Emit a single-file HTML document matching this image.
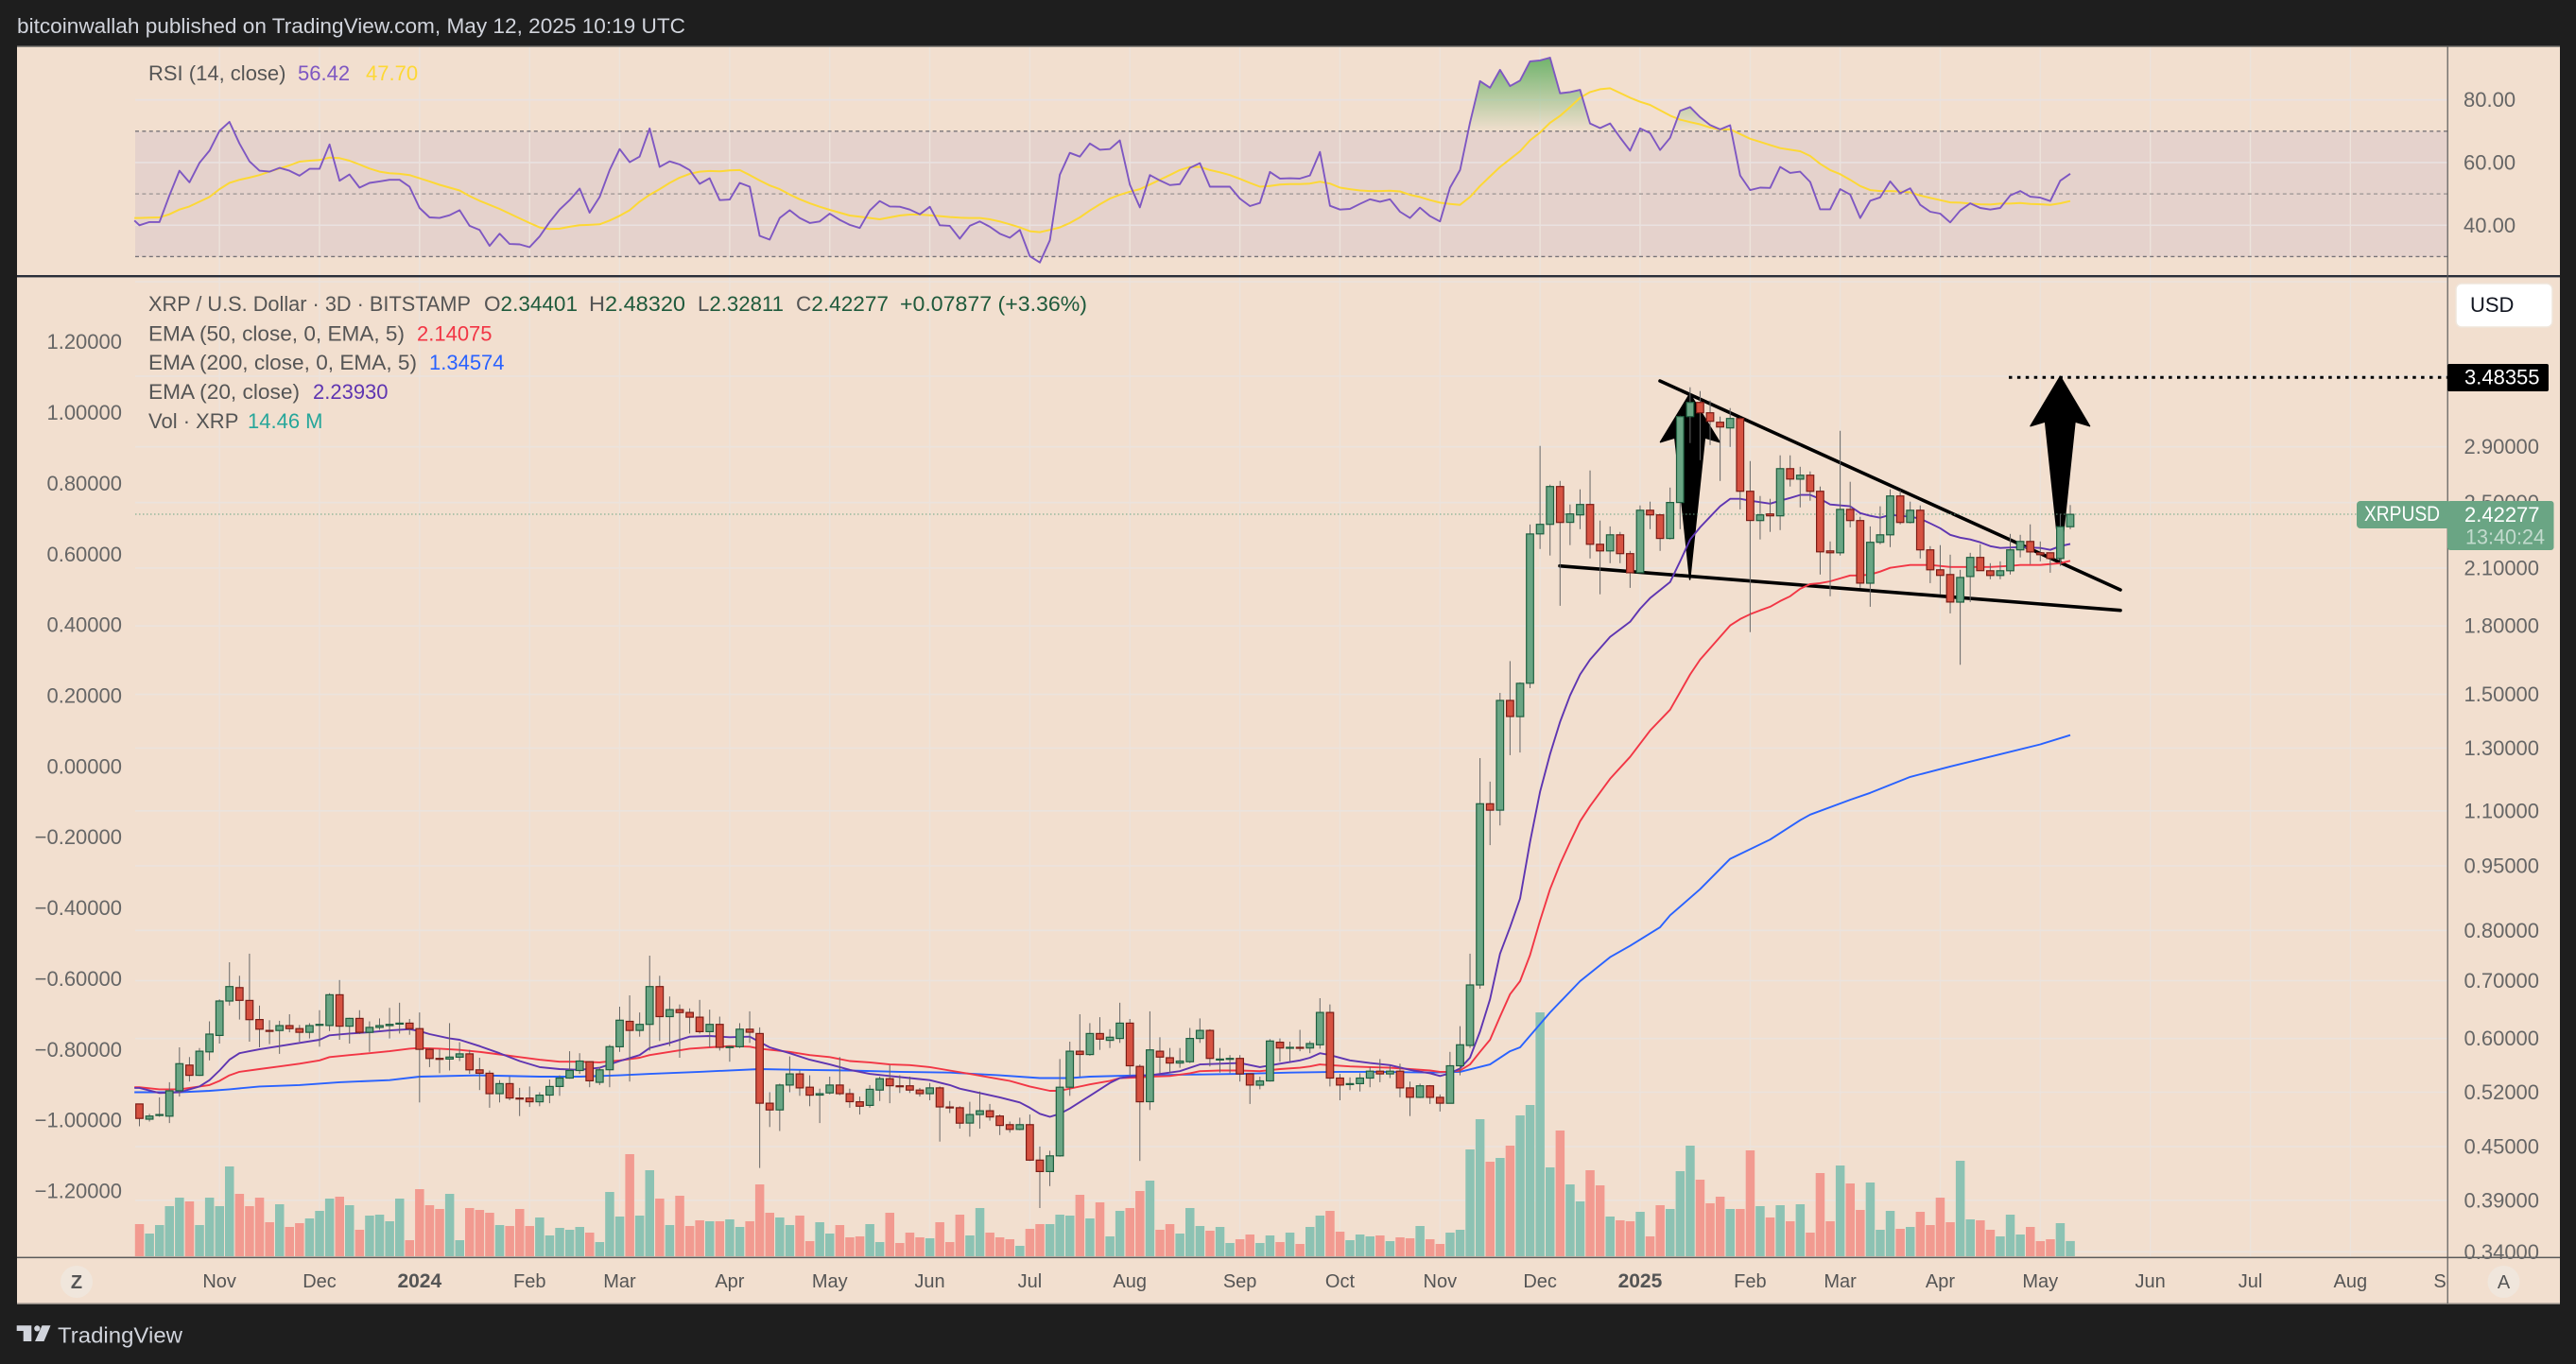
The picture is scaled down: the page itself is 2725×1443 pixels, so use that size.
<!DOCTYPE html>
<html lang="en">
<head>
<meta charset="utf-8">
<title>XRP / U.S. Dollar chart</title>
<style>
html,body{margin:0;padding:0;background:#1e1e1e;width:2725px;height:1443px;overflow:hidden}
svg{display:block}
text{font-family:"Liberation Sans",sans-serif;font-size:22px}
.lg{fill:#555}
.ax{fill:#666}
.val{fill:#1f5a3c}
</style>
</head>
<body>
<svg id="chart" xmlns="http://www.w3.org/2000/svg" width="2725" height="1443" viewBox="0 0 2725 1443">
<defs>
<linearGradient id="obFill" gradientUnits="userSpaceOnUse" x1="0" y1="60" x2="0" y2="139.5">
<stop offset="0" stop-color="#6fb36b" stop-opacity="1"/>
<stop offset="1" stop-color="#6fb36b" stop-opacity="0"/>
</linearGradient>
<clipPath id="obClip"><rect x="143" y="49" width="2446" height="90.5"/></clipPath>
<clipPath id="timeClip"><rect x="18" y="1331" width="2571" height="48"/></clipPath>
</defs>
<rect x="0" y="0" width="2725" height="1443" fill="#1e1e1e"/>
<rect x="18" y="49" width="2690" height="1330" fill="#f2dfcf"/>
<rect x="18" y="48.5" width="2690" height="1.5" fill="#8b8680"/>
<rect x="18" y="1378.5" width="2690" height="1.5" fill="#8b8680"/>
<rect x="143" y="139.5" width="2446" height="132" fill="#e5d2cc"/>
<g id="grid"></g>
<g id="rsiPane"></g>
<g id="volumes"></g>
<g>
<line x1="1756" y1="403" x2="2243" y2="624" stroke="#000" stroke-width="3.6" stroke-linecap="round"/>
<line x1="1650" y1="598.7" x2="2243" y2="645.7" stroke="#000" stroke-width="3.6" stroke-linecap="round"/>
<polygon points="1787.6,416.7 1819,467.7 1803.4,463 1787.6,613 1771.8,463 1756.5,467.7" fill="#000" stroke="#000" stroke-width="1.5" stroke-linejoin="round"/>
<polygon points="2179.4,398.3 2210.5,450.7 2195,446 2179.4,595 2163.6,446 2148,450.7" fill="#000" stroke="#000" stroke-width="1.5" stroke-linejoin="round"/>
<line x1="2125" y1="399.2" x2="2589" y2="399.2" stroke="#000" stroke-width="3" stroke-dasharray="3.5 5.4"/>
</g>
<line x1="143" y1="544" x2="2493" y2="544" stroke="#6aa584" stroke-width="1" stroke-dasharray="1.5 2.5"/>
<g id="emas"></g>
<g id="candles"></g>
<rect x="18" y="291" width="2690" height="2.4" fill="#2a2e39"/>
<rect x="18" y="1329.6" width="2690" height="1.5" fill="#5a5a5a"/>
<rect x="2588.6" y="49" width="1.2" height="1330" fill="#5a5a5a"/>
<g id="axes"></g>

<text x="18" y="35" fill="#d1d4dc" textLength="707" lengthAdjust="spacingAndGlyphs">bitcoinwallah published on TradingView.com, May 12, 2025 10:19 UTC</text>

<text class="lg" x="157" y="85">RSI (14, close)</text>
<text x="315" y="85" fill="#7e57c2">56.42</text>
<text x="387" y="85" fill="#fdd835">47.70</text>

<text class="lg" x="157" y="329" textLength="341" lengthAdjust="spacingAndGlyphs">XRP / U.S. Dollar · 3D · BITSTAMP</text>
<text x="512" y="329" textLength="99" lengthAdjust="spacingAndGlyphs"><tspan class="lg">O</tspan><tspan class="val">2.34401</tspan></text>
<text x="623" y="329" textLength="102" lengthAdjust="spacingAndGlyphs"><tspan class="lg">H</tspan><tspan class="val">2.48320</tspan></text>
<text x="738" y="329" textLength="91" lengthAdjust="spacingAndGlyphs"><tspan class="lg">L</tspan><tspan class="val">2.32811</tspan></text>
<text x="842" y="329" textLength="98" lengthAdjust="spacingAndGlyphs"><tspan class="lg">C</tspan><tspan class="val">2.42277</tspan></text>
<text class="val" x="952" y="329" textLength="198" lengthAdjust="spacingAndGlyphs">+0.07877 (+3.36%)</text>

<text class="lg" x="157" y="360.5" textLength="271" lengthAdjust="spacingAndGlyphs">EMA (50, close, 0, EMA, 5)</text>
<text x="441" y="360.5" fill="#f23645">2.14075</text>
<text class="lg" x="157" y="391" textLength="284" lengthAdjust="spacingAndGlyphs">EMA (200, close, 0, EMA, 5)</text>
<text x="454" y="391" fill="#2962ff">1.34574</text>
<text class="lg" x="157" y="422" textLength="160" lengthAdjust="spacingAndGlyphs">EMA (20, close)</text>
<text x="331" y="422" fill="#5e35b1">2.23930</text>
<text class="lg" x="157" y="453">Vol · XRP</text>
<text x="262" y="453" fill="#26a69a">14.46 M</text>

<rect x="2598" y="300" width="102" height="46" rx="6" fill="#fff" stroke="#efe6dc" stroke-width="1.5"/>
<text x="2613" y="330" fill="#131722">USD</text>

<rect x="2589" y="385" width="107" height="29" rx="2" fill="#000"/>
<text x="2607" y="406.5" fill="#fff">3.48355</text>

<rect x="2493" y="530" width="100" height="29" rx="4" fill="#6aa584"/>
<text x="2501" y="551" fill="#fff" textLength="80" lengthAdjust="spacingAndGlyphs">XRPUSD</text>
<rect x="2589" y="530" width="112.5" height="52" rx="3" fill="#6aa584"/>
<text x="2607" y="552" fill="#fff">2.42277</text>
<text x="2608" y="575.5" fill="#fff" fill-opacity="0.6" textLength="84" lengthAdjust="spacingAndGlyphs">13:40:24</text>

<ellipse cx="81" cy="1356" rx="17" ry="17" fill="#f0e6dc"/>
<text x="81" y="1363" fill="#555" text-anchor="middle" font-weight="bold" style="font-size:20px">Z</text>
<ellipse cx="2648.5" cy="1356" rx="17" ry="17" fill="#f0e6dc"/>
<text x="2648.5" y="1363" fill="#555" text-anchor="middle" style="font-size:20px">A</text>

<g fill="#d1d4dc">
<polygon points="17.7,1402.3 33.3,1402.3 33.3,1419 24.7,1419 24.7,1408 17.7,1408"/>
<circle cx="39.3" cy="1405.4" r="3.1"/>
<polygon points="44.5,1402.3 53.5,1402.3 46.5,1419 37,1419"/>
</g>
<text x="61" y="1420.6" fill="#d1d4dc" textLength="132" lengthAdjust="spacingAndGlyphs" style="font-size:23px">TradingView</text>
</svg>

<script>
const opens=[.504,.484,.489,.488,.522,.559,.544,.579,.605,.663,.687,.664,.631,.613,.613,.621,.616,.610,.622,.621,.674,.620,.633,.610,.618,.621,.624,.625,.616,.583,.569,.568,.571,.576,.552,.547,.518,.532,.512,.512,.507,.516,.528,.540,.551,.564,.534,.552,.587,.628,.613,.623,.689,.636,.648,.643,.635,.611,.623,.586,.587,.615,.608,.505,.496,.530,.546,.527,.516,.519,.530,.518,.507,.502,.523,.539,.529,.529,.523,.518,.526,.500,.499,.479,.490,.495,.488,.477,.471,.477,.434,.421,.439,.527,.580,.575,.608,.597,.600,.625,.557,.507,.580,.570,.562,.564,.600,.613,.567,.568,.569,.546,.530,.536,.594,.585,.586,.585,.590,.643,.540,.531,.532,.540,.550,.546,.550,.526,.513,.529,.513,.505,.558,.589,.692,1.121,1.102,1.476,1.414,1.545,2.300,2.359,2.609,2.371,2.419,2.487,2.237,2.198,2.294,2.182,2.074,2.449,2.419,2.272,2.500,3.143,3.264,3.175,3.096,3.049,3.127,2.576,2.383,2.425,2.413,2.736,2.661,2.689,2.576,2.198,2.187,2.455,2.383,2.017,2.249,2.294,2.544,2.371,2.449,2.204,2.090,2.064,1.918,2.053,2.160,2.085,2.059,2.085,2.204,2.254,2.187,2.187,2.154,2.34401];
const highs=[.504,.491,.513,.534,.586,.571,.585,.628,.666,.735,.709,.752,.655,.630,.629,.640,.622,.625,.647,.677,.701,.634,.647,.628,.633,.651,.660,.632,.643,.585,.583,.625,.594,.582,.570,.551,.537,.542,.526,.528,.520,.538,.544,.580,.577,.565,.556,.590,.653,.673,.643,.748,.709,.671,.657,.650,.665,.648,.636,.588,.625,.645,.618,.520,.532,.572,.551,.544,.525,.542,.571,.525,.514,.530,.542,.559,.544,.542,.526,.533,.528,.508,.501,.507,.521,.504,.490,.481,.486,.490,.450,.445,.568,.595,.640,.625,.635,.615,.660,.632,.560,.645,.602,.585,.585,.617,.633,.615,.585,.574,.574,.547,.542,.599,.600,.595,.614,.596,.668,.657,.546,.541,.547,.556,.568,.558,.561,.535,.532,.530,.517,.579,.620,.752,1.266,1.189,1.506,1.639,1.549,2.358,2.907,2.622,2.648,2.487,2.589,2.723,2.383,2.346,2.312,2.198,2.481,2.506,2.425,2.602,3.15,3.398,3.364,3.280,3.143,3.215,3.135,2.792,2.544,2.525,2.835,2.835,2.750,2.716,2.609,2.254,3.027,2.642,2.407,2.346,2.475,2.589,2.583,2.506,2.481,2.226,2.232,2.176,2.090,2.187,2.237,2.127,2.138,2.300,2.294,2.359,2.254,2.187,2.425,2.4832];
const lows=[.475,.481,.487,.479,.514,.535,.543,.566,.592,.655,.631,.595,.586,.591,.576,.610,.595,.600,.587,.612,.598,.592,.607,.579,.614,.600,.608,.606,.506,.556,.547,.551,.565,.546,.523,.499,.506,.509,.488,.500,.501,.505,.515,.539,.546,.527,.530,.527,.579,.535,.603,.581,.596,.588,.570,.608,.608,.586,.581,.564,.585,.593,.425,.474,.469,.520,.515,.501,.479,.517,.516,.499,.490,.499,.508,.505,.519,.519,.514,.509,.456,.492,.472,.462,.472,.482,.464,.467,.470,.433,.382,.405,.438,.515,.542,.573,.582,.585,.593,.544,.433,.496,.547,.548,.555,.562,.593,.557,.548,.547,.535,.504,.524,.535,.564,.565,.580,.577,.584,.528,.509,.523,.521,.527,.534,.540,.513,.488,.512,.504,.494,.505,.544,.585,.685,1.004,1.058,1.276,1.285,1.525,2.209,2.171,1.899,2.232,2.329,2.154,1.958,2.127,2.127,1.992,2.072,2.329,2.198,2.266,2.329,2.929,2.799,2.914,2.648,2.899,2.455,1.770,2.266,2.312,2.323,2.609,2.468,2.512,2.064,1.948,2.171,2.340,1.992,1.894,2.237,2.220,2.359,2.365,2.154,2.017,1.958,1.861,1.623,1.918,2.085,2.038,2.038,2.064,2.160,2.122,2.138,2.074,2.112,2.32811];
const closes=[.485,.488,.490,.522,.561,.544,.580,.607,.663,.689,.664,.631,.615,.612,.621,.616,.610,.621,.623,.674,.620,.633,.610,.618,.621,.623,.625,.616,.583,.569,.568,.571,.576,.552,.547,.518,.532,.512,.511,.507,.516,.528,.540,.551,.565,.536,.552,.587,.630,.613,.623,.689,.636,.648,.643,.635,.611,.623,.586,.587,.615,.610,.505,.496,.530,.546,.526,.516,.518,.530,.518,.507,.501,.524,.539,.529,.528,.523,.518,.526,.500,.499,.479,.490,.495,.487,.476,.471,.477,.434,.421,.439,.527,.580,.575,.608,.599,.602,.625,.558,.507,.582,.571,.562,.565,.600,.613,.569,.568,.569,.546,.530,.536,.596,.585,.586,.585,.592,.643,.540,.530,.532,.540,.550,.546,.550,.526,.513,.529,.513,.505,.558,.590,.692,1.121,1.102,1.476,1.414,1.545,2.299,2.359,2.609,2.371,2.425,2.487,2.237,2.198,2.294,2.182,2.074,2.449,2.419,2.272,2.500,3.143,3.264,3.175,3.104,3.057,3.127,2.576,2.383,2.419,2.413,2.736,2.661,2.689,2.576,2.192,2.187,2.455,2.383,2.017,2.249,2.294,2.544,2.371,2.449,2.204,2.090,2.059,1.918,2.048,2.160,2.085,2.059,2.085,2.204,2.254,2.192,2.176,2.154,2.344,2.42277];
const volumes=[30.6,21.6,29.7,47.7,55.8,52.2,29.7,55.8,47.7,85.5,59.4,47.7,55.8,32.4,49.5,27.9,31.5,36.0,43.2,54.9,56.7,48.6,25.2,38.7,39.6,33.3,54.9,15.3,63.9,48.6,45.0,59.4,15.3,45.9,44.1,41.4,29.7,28.8,45.0,28.8,36.9,19.8,27.0,25.2,27.9,22.5,13.5,61.2,37.8,97.2,38.7,81.9,54.9,29.7,57.6,28.8,34.2,33.3,33.3,35.1,27.9,33.3,68.4,41.4,36.9,29.7,38.7,14.4,32.4,21.6,29.7,18.0,18.9,30.6,13.5,41.4,12.6,22.5,18.0,17.1,32.4,13.5,39.6,19.8,45.9,22.5,18.0,16.2,9.9,26.1,30.6,30.6,39.6,38.7,58.5,36.0,51.3,18.9,43.2,45.9,62.1,72.0,25.2,30.6,21.6,45.9,28.8,24.3,27.9,12.6,16.2,20.7,12.6,19.8,13.5,22.5,11.7,27.9,38.7,43.2,23.4,15.3,20.7,18.9,19.8,14.4,18.0,17.1,28.8,16.2,11.7,22.5,25.2,101.7,130.5,90.0,93.6,105.3,134.1,144.0,232.2,84.6,119.7,68.4,52.2,81.9,67.5,37.8,34.2,33.3,42.3,18.9,48.6,45.0,81.0,105.3,72.9,50.4,56.7,45.0,45.0,100.8,47.7,36.9,48.6,33.3,49.5,22.5,79.2,33.3,86.4,69.3,44.1,70.2,25.2,43.2,26.1,27.9,42.3,29.7,55.8,32.4,90.9,35.1,34.2,25.2,18.9,39.6,20.7,27.9,14.4,16.2,31.5,14.46];
const rsiValues=[40.0,41.0,41.0,49.5,57.4,53.7,59.9,63.8,70.1,73.0,66.1,60.4,57.4,57.1,58.3,57.4,55.8,58.0,58.0,65.8,54.2,56.2,52.0,53.5,54.0,54.5,54.5,52.3,45.5,42.5,42.3,43.2,44.8,39.8,38.5,33.4,37.3,34.0,33.9,33.0,36.4,41.0,45.0,48.0,51.7,44.0,49.0,57.6,64.3,60.1,61.9,70.9,58.6,60.4,59.4,57.6,53.2,55.0,48.0,48.2,53.5,52.3,36.6,35.4,42.3,44.8,42.3,40.7,41.2,43.7,41.7,40.1,39.1,44.7,47.7,46.0,45.9,45.0,43.5,45.9,40.0,39.8,35.7,39.8,41.2,39.5,37.3,36.0,38.5,30.1,28.1,35.2,56.1,63.1,61.9,66.1,64.1,64.3,67.1,53.0,45.7,56.0,54.3,52.8,53.1,58.3,59.8,52.3,52.3,52.3,48.5,46.1,47.1,57.0,54.9,55.0,54.9,55.9,63.4,46.2,45.0,45.2,46.8,48.3,47.5,48.3,44.3,42.3,45.6,42.9,41.2,52.0,57.6,72.7,86.0,83.9,89.6,84.4,86.2,92.3,92.6,93.5,82.1,82.5,83.2,72.5,71.0,72.5,68.0,63.8,70.9,69.4,64.0,67.9,76.5,77.7,74.5,72.0,70.6,71.9,55.9,51.2,52.0,51.9,58.6,56.7,57.1,53.8,45.1,45.1,51.5,49.8,42.3,47.8,48.9,54.0,50.2,51.8,46.5,44.3,43.7,40.9,44.7,47.0,45.5,45.0,45.5,49.5,50.9,49.1,48.8,47.7,54.2,56.42];
const rsiMaValues=[42.3,42.4,42.5,43.5,45.0,46.0,47.5,49.0,51.5,53.5,54.5,55.2,56.0,57.1,58.1,59.1,60.3,60.6,60.8,61.6,61.4,60.6,59.4,58.1,57.1,56.6,56.4,56.0,55.0,54.0,52.9,52.0,51.1,49.3,47.8,46.5,45.2,43.7,42.2,40.7,39.3,38.8,38.9,39.5,40.0,40.1,40.3,41.5,43.0,44.8,47.5,49.7,51.5,53.5,55.2,56.4,57.1,57.3,57.2,57.5,57.6,56.0,54.3,52.7,51.5,49.8,48.3,47.0,45.9,44.9,44.0,43.1,42.7,42.3,41.9,42.5,43.1,43.4,43.4,43.2,42.9,42.6,42.4,42.3,42.3,41.9,41.2,40.3,39.3,38.1,37.8,38.5,39.3,40.7,42.5,44.7,46.7,48.5,49.7,50.7,51.5,53.0,54.5,56.0,57.6,58.6,58.6,57.6,56.9,56.0,54.8,53.5,52.3,52.5,53.0,53.1,53.1,53.3,53.9,53.3,52.0,51.5,51.1,50.9,50.9,51.0,50.8,49.7,49.0,48.0,47.2,46.8,46.5,49.0,52.5,55.6,58.6,61.1,63.6,67.1,69.6,72.7,74.9,77.7,80.7,82.5,83.4,83.7,82.2,80.7,79.4,78.4,76.7,75.0,73.7,72.9,72.2,71.2,70.6,70.6,69.1,67.6,66.6,65.6,64.6,64.1,63.6,62.1,59.6,57.6,56.3,54.5,52.5,51.2,50.9,50.9,50.8,50.5,49.5,48.7,48.0,47.3,47.2,46.9,46.7,46.6,46.9,46.9,47.1,46.8,46.7,46.5,47.0,47.70];
const rsiPriorValue=41.5;
const rsiMaPriorValue=42.3;

const ema20Bars=[-0.5,0,2,4,6,7,8,9,10,11,12,14,16,18,19,21,23,25,27,28,29,31,32,34,36,38,40,42,44,46,48,50,51,53,55,57,59,61,63,65,67,69,71,73,75,77,79,81,82,84,86,88,89,90,91,92,93,95,97,98,99,101,103,104,106,108,110,112,114,116,117,118,119,121,123,125,127,129,130,131,132,133,134,135,136,137,138,139,140,141,142,143,144,145,147,149,150,151,153,154,155,156,157,158,159,160,161,163,164,165,166,167,168,169,171,172,173,174,175,177,178,179,180,181,182,183,184,185,186,188,190,191,192,193];
const ema20Values=[.526,.526,.519,.520,.528,.537,.551,.567,.577,.580,.583,.588,.593,.598,.605,.608,.610,.613,.615,.612,.607,.600,.598,.588,.577,.565,.556,.553,.552,.555,.565,.574,.585,.593,.603,.604,.602,.603,.586,.577,.567,.560,.552,.546,.543,.540,.537,.530,.525,.519,.513,.506,.499,.491,.487,.491,.498,.515,.533,.540,.542,.544,.548,.550,.560,.561,.562,.556,.561,.566,.570,.577,.574,.566,.562,.559,.552,.547,.543,.547,.554,.570,.611,.666,.752,.807,.871,1.012,1.157,1.279,1.394,1.496,1.582,1.645,1.748,1.820,1.884,1.938,2.023,2.138,2.266,2.340,2.407,2.475,2.525,2.525,2.512,2.493,2.512,2.531,2.551,2.551,2.525,2.487,2.475,2.431,2.413,2.401,2.419,2.407,2.395,2.365,2.335,2.294,2.277,2.266,2.249,2.226,2.215,2.220,2.215,2.204,2.226,2.2393];
const ema50Bars=[-0.5,0,2,4,6,7,8,9,10,12,14,16,18,19,21,23,25,27,28,30,32,34,36,38,40,42,44,46,48,50,51,53,55,57,59,61,62,65,67,69,71,73,75,77,79,81,83,85,87,89,91,92,93,95,97,98,100,101,103,105,106,108,110,112,114,116,117,118,119,121,123,125,127,129,130,131,132,133,134,135,136,137,138,139,140,141,142,143,144,145,147,149,151,153,155,156,158,159,160,161,162,163,164,165,166,167,168,169,170,171,172,173,174,175,177,179,181,185,187,188,190,192,193];
const ema50Values=[.527,.527,.524,.524,.528,.530,.536,.544,.549,.553,.557,.561,.566,.571,.574,.577,.580,.584,.585,.584,.582,.579,.575,.571,.567,.564,.564,.563,.566,.570,.574,.579,.584,.586,.588,.587,.584,.579,.574,.571,.565,.563,.560,.559,.556,.551,.546,.541,.536,.528,.522,.522,.525,.531,.536,.540,.541,.542,.543,.547,.550,.551,.551,.550,.553,.555,.557,.560,.559,.557,.556,.555,.553,.551,.549,.549,.551,.560,.579,.598,.636,.675,.699,.749,.821,.893,.955,1.012,1.070,1.114,1.198,1.270,1.362,1.440,1.582,1.645,1.748,1.802,1.833,1.857,1.876,1.894,1.923,1.948,1.987,2.012,2.017,2.027,2.043,2.059,2.059,2.064,2.080,2.101,2.117,2.117,2.106,2.106,2.112,2.117,2.117,2.127,2.14075];
const ema200Bars=[-0.5,4,7,9,12,16,20,25,28,34,40,44,48,51,56,62,66,71,76,81,86,90,93,95,100,105,110,115,120,124,129,132,135,137,138,141,144,147,149,152,153,156,159,163,166,167,171,173,177,181,186,190,193];
const ema200Values=[.520,.520,.522,.524,.528,.530,.534,.537,.542,.544,.542,.542,.544,.546,.549,.553,.552,.551,.549,.548,.544,.540,.540,.542,.544,.545,.546,.548,.549,.549,.548,.549,.560,.580,.586,.643,.699,.745,.768,.807,.833,.893,.968,1.019,1.073,1.089,1.133,1.154,1.204,1.238,1.279,1.313,1.34575];

const priceTicks=[2.9,2.5,2.1,1.8,1.5,1.3,1.1,.95,.8,.7,.6,.52,.45,.39,.34];
const priceGridOnly=[4.5,3.5];
const leftTicks=[1.2,1.0,.8,.6,.4,.2,0,-.2,-.4,-.6,-.8,-1.0,-1.2];
const rsiTicks=[80,60,40];
const rsiLevels=[70,50,30];
const timeBars=[8,18,28,39,48,59,69,79,89,99,110,120,130,140,150,161,170,180,190,201,211,221,231];
const timeLabels=['Nov','Dec','2024','Feb','Mar','Apr','May','Jun','Jul','Aug','Sep','Oct','Nov','Dec','2025','Feb','Mar','Apr','May','Jun','Jul','Aug','Sep'];

const NS='http://www.w3.org/2000/svg';
function barX(i){return 147.5+i*10.583;}
function priceY(p){return 1324.3-397.3*Math.log(p/0.34);}
function leftY(v){return 810.85-v*374.3;}
function rsiY(v){return 105.7+(80-v)*3.314;}
function volTop(v){return 1329-v/0.9;}
function mk(parent,tag,attrs,txt){
  const el=document.createElementNS(NS,tag);
  for(const k in attrs){el.setAttribute(k,attrs[k]);}
  if(txt!==undefined){el.textContent=txt;}
  parent.appendChild(el);
  return el;
}
const gridG=document.getElementById('grid');
const rsiG=document.getElementById('rsiPane');
const volG=document.getElementById('volumes');
const emaG=document.getElementById('emas');
const candG=document.getElementById('candles');
const axG=document.getElementById('axes');

timeBars.forEach(function(b){
  if(barX(b)>2585){return;}
  const l=mk(gridG,'line',{x1:barX(b),y1:50,x2:barX(b),y2:1329,stroke:'#ece3db','stroke-width':1.4});
  
  
});
rsiTicks.forEach(function(v){
  const l=mk(gridG,'line',{x1:143,y1:rsiY(v),x2:2589,y2:rsiY(v),stroke:'#e9e1e0','stroke-width':1.6});
  
  
});
priceTicks.concat(priceGridOnly).forEach(function(p){
  const l=mk(gridG,'line',{x1:143,y1:priceY(p),x2:2589,y2:priceY(p),stroke:'#ebe3dd','stroke-width':1.6});
  
  
});

rsiLevels.forEach(function(v){
  const l=mk(rsiG,'line',{x1:143,y1:rsiY(v),x2:2589,y2:rsiY(v),stroke:v===50?'#a79e9b':'#787478','stroke-width':1.4,'stroke-dasharray':'4 3.4'});
  
  
});
const rsiPts=rsiValues.map(function(v,i){return barX(i).toFixed(1)+','+rsiY(v).toFixed(1);});
const rsiLead=barX(-0.5).toFixed(1)+','+rsiY(rsiPriorValue).toFixed(1)+' ';
const rsiMaLead=barX(-0.5).toFixed(1)+','+rsiY(rsiMaPriorValue).toFixed(1)+' ';
const obArea=mk(rsiG,'polygon',{points:barX(0)+','+rsiY(70)+' '+rsiPts.join(' ')+' '+barX(rsiValues.length-1)+','+rsiY(70),fill:'url(#obFill)','clip-path':'url(#obClip)'});


const rsiMaLine=mk(rsiG,'polyline',{points:rsiMaLead+rsiMaValues.map(function(v,i){return barX(i).toFixed(1)+','+rsiY(v).toFixed(1);}).join(' '),fill:'none',stroke:'#fdd835','stroke-width':2,'stroke-linejoin':'round'});


const rsiLine=mk(rsiG,'polyline',{points:rsiLead+rsiPts.join(' '),fill:'none',stroke:'#7e57c2','stroke-width':1.9,'stroke-linejoin':'round'});



volumes.forEach(function(v,i){
  const up=closes[i]>=opens[i];
  const r=mk(volG,'rect',{x:(barX(i)-4.7).toFixed(1),y:volTop(v).toFixed(1),width:9.5,height:(1329-volTop(v)).toFixed(1),fill:up?'#8cc2b3':'#f29a90'});
  
  
});

function emaPts(bars,vals){return bars.map(function(b,i){return barX(b).toFixed(1)+','+priceY(vals[i]).toFixed(1);}).join(' ');}
const e200=mk(emaG,'polyline',{points:emaPts(ema200Bars,ema200Values),fill:'none',stroke:'#2962ff','stroke-width':1.9,'stroke-linejoin':'round'});


const e50=mk(emaG,'polyline',{points:emaPts(ema50Bars,ema50Values),fill:'none',stroke:'#f23645','stroke-width':1.9,'stroke-linejoin':'round'});


const e20=mk(emaG,'polyline',{points:emaPts(ema20Bars,ema20Values),fill:'none',stroke:'#5e35b1','stroke-width':1.9,'stroke-linejoin':'round'});



opens.forEach(function(o,i){
  const c=closes[i];
  const up=c>=o;
  const g=mk(candG,'g',{});
  
  
  const x=barX(i);
  const wick=mk(g,'line',{x1:x,y1:priceY(highs[i]).toFixed(1),x2:x,y2:priceY(lows[i]).toFixed(1),stroke:'#666','stroke-width':1});
  
  
  const top=priceY(Math.max(o,c));
  const bot=priceY(Math.min(o,c));
  const body=mk(g,'rect',{x:(x-3.8).toFixed(1),y:top.toFixed(1),width:7.6,height:Math.max(bot-top,1).toFixed(1),fill:up?'#6aa584':'#d65241',stroke:up?'#1f5f40':'#7c1d16','stroke-width':1.2});
  
  
});

rsiTicks.forEach(function(v){
  const t=mk(axG,'text',{x:2606,y:rsiY(v)+7.5,'class':'ax'},v.toFixed(2));
  
  
});
leftTicks.forEach(function(v){
  const s=(v<0?'\u2212':'')+Math.abs(v).toFixed(5);
  const t=mk(axG,'text',{x:129,y:leftY(v)+7.5,'class':'ax','text-anchor':'end'},s);
  
  
});
priceTicks.forEach(function(p){
  const t=mk(axG,'text',{x:2606.5,y:priceY(p)+7.5,'class':'ax'},p.toFixed(5));
  
  
});
timeBars.forEach(function(b,i){
  const isYear=/^\d{4}$/.test(timeLabels[i]);
  const t=mk(axG,'text',{x:barX(b),y:1362,'text-anchor':'middle',fill:'#555','clip-path':'url(#timeClip)','font-weight':isYear?'bold':'normal',style:'font-size:'+(isYear?'21px':'20px')},timeLabels[i]);
  
  
});
</script>
</body>
</html>
